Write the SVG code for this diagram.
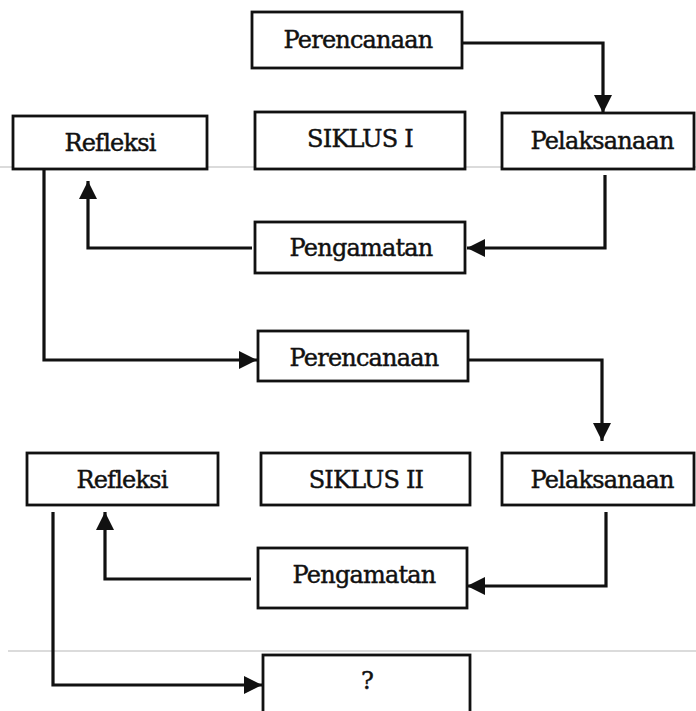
<svg xmlns="http://www.w3.org/2000/svg" width="696" height="711" viewBox="0 0 696 711">
<style>
.box{fill:#fff;stroke:#111;stroke-width:2.8}
.lbl{font-family:"DejaVu Serif","Liberation Serif",serif;font-size:24px;fill:#111;stroke:#111;stroke-width:0.45;text-anchor:middle;letter-spacing:-0.8px}
.con{fill:none;stroke:#111;stroke-width:3.2}
.faint{stroke:#cfcfcf;stroke-width:1.5}
</style>
<defs>
<marker id="ah" markerUnits="userSpaceOnUse" markerWidth="19" markerHeight="18" refX="18" refY="9" orient="auto">
<path d="M0,0 L18,9 L0,18 z" fill="#111"/>
</marker>
</defs>
<rect width="696" height="711" fill="#fff"/>
<line class="faint" x1="0" y1="167" x2="696" y2="167"/>
<line class="faint" x1="8" y1="651" x2="696" y2="651"/>
<g id="connectors">
<path class="con" d="M462,43 H603 V113" marker-end="url(#ah)"/>
<path class="con" d="M605,175 V248 H467" marker-end="url(#ah)"/>
<path class="con" d="M252,248 H88 V181" marker-end="url(#ah)"/>
<path class="con" d="M44,169 V360 H257" marker-end="url(#ah)"/>
<path class="con" d="M468,360 H602 V441" marker-end="url(#ah)"/>
<path class="con" d="M606,512 V586 H467" marker-end="url(#ah)"/>
<path class="con" d="M251,579 H105 V512" marker-end="url(#ah)"/>
<path class="con" d="M53,512 V685 H262" marker-end="url(#ah)"/>
</g>
<g id="perencanaan1"><rect class="box" x="252" y="12" width="210" height="56"/><text class="lbl" x="358" y="48">Perencanaan</text></g>
<g id="refleksi1"><rect class="box" x="13" y="116" width="194" height="53"/><text class="lbl" x="110" y="151">Refleksi</text></g>
<g id="siklus1"><rect class="box" x="255" y="112" width="210" height="57"/><text class="lbl" x="360" y="147">SIKLUS I</text></g>
<g id="pelaksanaan1"><rect class="box" x="502" y="113" width="192" height="56"/><text class="lbl" x="602" y="149">Pelaksanaan</text></g>
<g id="pengamatan1"><rect class="box" x="255" y="222" width="210" height="51"/><text class="lbl" x="361" y="256">Pengamatan</text></g>
<g id="perencanaan2"><rect class="box" x="258" y="331" width="210" height="50"/><text class="lbl" x="364" y="366">Perencanaan</text></g>
<g id="refleksi2"><rect class="box" x="27" y="453" width="191" height="52"/><text class="lbl" x="122" y="488">Refleksi</text></g>
<g id="siklus2"><rect class="box" x="261" y="453" width="209" height="52"/><text class="lbl" x="366" y="488">SIKLUS II</text></g>
<g id="pelaksanaan2"><rect class="box" x="502" y="453" width="192" height="52"/><text class="lbl" x="602" y="488">Pelaksanaan</text></g>
<g id="pengamatan2"><rect class="box" x="258" y="548" width="209" height="60"/><text class="lbl" x="364" y="583">Pengamatan</text></g>
<g id="question"><rect class="box" x="263" y="655" width="207" height="60"/><text class="lbl" x="367" y="689">?</text></g>
</svg>
